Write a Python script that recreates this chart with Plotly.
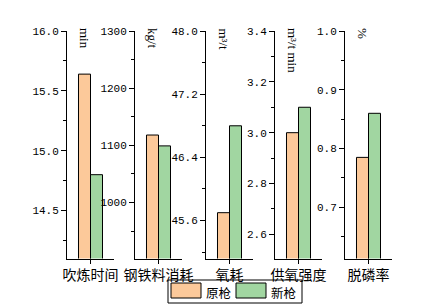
import plotly.graph_objects as go

W, H = 439, 307

categories = ["吹炼时间", "钢铁料消耗", "氧耗", "供氧强度", "脱磷率"]
units = ["min", "kg/t", "m³/t", "m³/t min", "%"]
series_names = ["原枪", "新枪"]
old_gun = [15.64, 1118, 45.70, 3.00, 0.785]
new_gun = [14.80, 1099, 46.80, 3.10, 0.860]
y_ranges = [[14.1, 16.0], [902, 1300], [45.12, 48.0], [2.505, 3.4], [0.613, 1.0]]
y_tickvals = [
    [14.5, 15.0, 15.5, 16.0],
    [1000, 1100, 1200, 1300],
    [45.6, 46.4, 47.2, 48.0],
    [2.6, 2.8, 3.0, 3.2, 3.4],
    [0.7, 0.8, 0.9, 1.0],
]
y_minorvals = [
    [14.25, 14.75, 15.25, 15.75],
    [950, 1050, 1150, 1250],
    [45.2, 46.0, 46.8, 47.6],
    [2.7, 2.9, 3.1, 3.3],
    [0.65, 0.75, 0.85, 0.95],
]
y_formats = [".1f", "d", ".1f", ".1f", ".1f"]
colors = ["#FCC99A", "#A1D6A1"]

axis_px = [67, 135, 206, 275, 345]
panel_w = 47
top_px, bot_px = 31, 258.5

fig = go.Figure()
tick_font = dict(family="Liberation Mono", size=11, color="black")
cjk = "Noto Sans CJK SC"

for i in range(5):
    xa = "x" if i == 0 else f"x{i+1}"
    ya = "y" if i == 0 else f"y{i+1}"
    for s, (name, vals) in enumerate(zip(series_names, [old_gun, new_gun])):
        fig.add_trace(go.Bar(
            x=[categories[i]], y=[vals[i]], name=name,
            marker=dict(color=colors[s], line=dict(color="black", width=1)),
            xaxis=xa, yaxis=ya, showlegend=False, legendgroup=name,
        ))
    x0 = axis_px[i] / W
    x1 = (axis_px[i] + panel_w) / W
    xkey = "xaxis" if i == 0 else f"xaxis{i+1}"
    ykey = "yaxis" if i == 0 else f"yaxis{i+1}"
    fig.layout[xkey] = dict(
        domain=[x0, x1], anchor=ya, type="category",
        showline=True, linecolor="black", linewidth=1,
        ticks="outside", ticklen=4, tickcolor="black",
        tickfont=dict(family=cjk, size=14, color="black"),
        showgrid=False, zeroline=False, fixedrange=True,
    )
    fig.layout[ykey] = dict(
        domain=[1 - bot_px / H, 1 - top_px / H], anchor=xa,
        range=y_ranges[i], tickmode="array", tickvals=y_tickvals[i],
        tickformat=y_formats[i],
        showline=True, linecolor="black", linewidth=1,
        ticks="outside", ticklen=5, tickcolor="black",
        minor=dict(ticks="outside", ticklen=3, tickcolor="black",
                   tickmode="array", tickvals=y_minorvals[i], showgrid=False),
        tickfont=tick_font, showgrid=False, zeroline=False,
    )
    fig.add_annotation(
        x=(axis_px[i] + 8) / W, y=1 - 26 / H, xref="paper", yref="paper",
        text=units[i], textangle=90, showarrow=False,
        xanchor="left", yanchor="top",
        font=dict(family="Liberation Serif", size=13, color="black"),
    )

# Legend (drawn as a framed key below the panels)
def px(x):
    return x / W

def py(y):
    return 1 - y / H

fig.add_shape(type="rect", xref="paper", yref="paper",
              x0=px(168), x1=px(302), y0=py(303), y1=py(280),
              line=dict(color="black", width=1), fillcolor="rgba(0,0,0,0)")
swatch_x = [171, 236]
for s, name in enumerate(series_names):
    sx = swatch_x[s]
    fig.add_shape(type="rect", xref="paper", yref="paper",
                  x0=px(sx), x1=px(sx + 30), y0=py(298), y1=py(283),
                  line=dict(color="black", width=1), fillcolor=colors[s])
    fig.add_annotation(x=px(sx + 33), y=py(292.5), xref="paper", yref="paper",
                       text=name, showarrow=False, xanchor="left", yanchor="middle",
                       font=dict(family=cjk, size=12.5, color="black"))

fig.update_layout(
    width=W, height=H,
    margin=dict(l=0, r=0, t=0, b=0, autoexpand=False),
    paper_bgcolor="white", plot_bgcolor="white",
    barmode="group", bargap=0.489, bargroupgap=0,
    showlegend=False,
)

fig.write_html("out.html")
